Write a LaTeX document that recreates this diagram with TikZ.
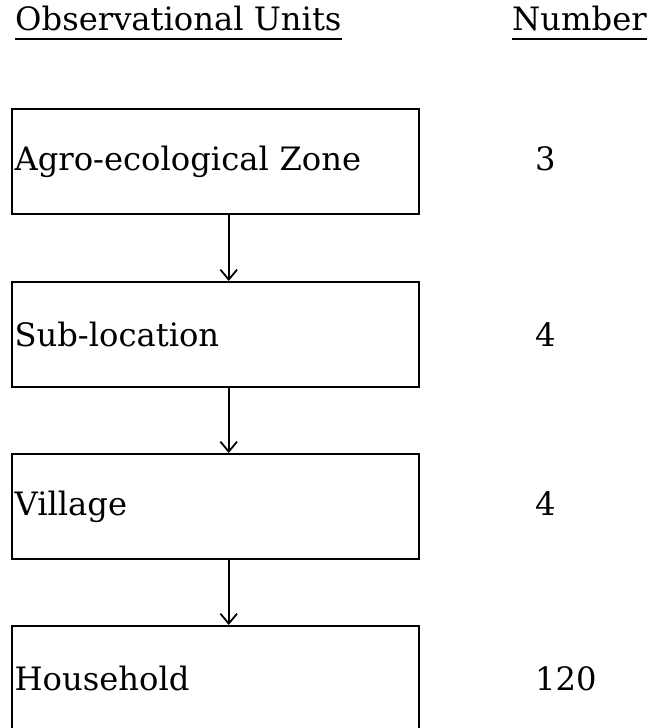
\documentclass[tikz,border=0pt]{standalone}
\usepackage{fontspec}
\setmainfont{DejaVu Serif}
\usetikzlibrary{arrows.meta}
\tikzset{
    bigfont/.style={font=\fontsize{27.5pt}{33pt}\selectfont},
    unitbox/.style={bigfont, draw, line width=1.5pt, anchor=north west,
      minimum width=12.21cm, minimum height=3.15cm,
      text width=12.05cm, align=left, inner xsep=0.08cm},
    hdtext/.style={bigfont, anchor=base west, inner sep=0pt},
    numtext/.style={bigfont, anchor=base west, inner sep=0pt},
    uline/.style={line width=1.3pt},
    arr/.style={line width=1.5pt, -{Straight Barb[length=0.3cm, width=0.5cm]}},
  }
\begin{document}
\begin{tikzpicture}[x=0.03cm, y=-0.03cm]
  \useasboundingbox (0,0) rectangle (654,728);
  \clip (0,0) rectangle (654,728);
  %headings
  \node[hdtext] (hdunits) at (15,31) {Observational Units};
  \node[hdtext] (hdnum) at (512,31) {Number};
  \draw[uline] ([yshift=-0.24cm]hdunits.base west) -- ([yshift=-0.24cm]hdunits.base east);
  \draw[uline] ([yshift=-0.24cm]hdnum.base west) -- ([yshift=-0.24cm]hdnum.base east);
  %boxes
  \node[unitbox] (agro) at (11,108) {Agro-ecological Zone};
  \node[unitbox] (subloc) at (11,281) {Sub-location};
  \node[unitbox] (village) at (11,453) {Village};
  \node[unitbox] (hhold) at (11,625) {Household};
  %numbers
  \coordinate (numcol) at (535,0);
  \node[numtext] (nagro) at (agro.base -| numcol) {3};
  \node[numtext] (nsubloc) at (subloc.base -| numcol) {4};
  \node[numtext] (nvillage) at (village.base -| numcol) {4};
  \node[numtext] (nhhold) at (hhold.base -| numcol) {120};
  %arrows
  \draw[arr] ([xshift=0.4cm]agro.south) -- ([xshift=0.4cm]subloc.north);
  \draw[arr] ([xshift=0.4cm]subloc.south) -- ([xshift=0.4cm]village.north);
  \draw[arr] ([xshift=0.4cm]village.south) -- ([xshift=0.4cm]hhold.north);
\end{tikzpicture}
\end{document}
